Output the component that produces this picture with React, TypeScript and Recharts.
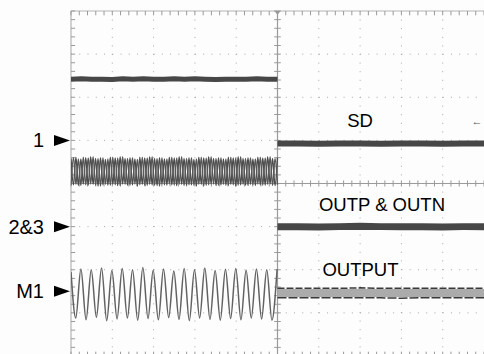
import React from "react";
import { LineChart, Line, XAxis, YAxis, ReferenceLine, ReferenceDot } from "recharts";

// Scope screen: 10 horizontal divisions x 8 vertical divisions
const xMajor = [1, 2, 3, 4, 6, 7, 8, 9];
const yMajor = [-3, -2, -1, 1, 2, 3];
const xMinor = Array.from({ length: 51 }, (_, i) => i / 5);
const yMinor = Array.from({ length: 41 }, (_, i) => i / 5 - 4);

// Channel reference markers on the left edge
const markerLabels = ["1", "2&3", "M1"];
const markerLevels = [1, -1, -2.5];

// Trace annotations
const noteTexts = ["SD", "OUTP & OUTN", "OUTPUT"];
const noteX = [7, 7.53, 7.01];
const noteY = [1.45, -0.48, -1.99];

// Before shutdown (0..5 div)
const topTrace = [
  2.42, 2.43, 2.42, 2.42, 2.41, 2.43, 2.42, 2.43, 2.42, 2.42, 2.43,
  2.42, 2.43, 2.42, 2.41, 2.42, 2.42, 2.42, 2.43, 2.42, 2.42,
];
const burstStep = 5 / 84;
const burstA = [
  0.58, -0.03, 0.61, -0.05, 0.57, -0.01, 0.6, -0.04, 0.62, -0.02, 0.58, -0.06,
  0.6, -0.03, 0.56, -0.04, 0.61, -0.02, 0.59, -0.05, 0.62, -0.01, 0.58, -0.04,
  0.6, -0.03, 0.57, -0.06, 0.61, -0.02, 0.59, -0.04, 0.62, -0.03, 0.58, -0.05,
  0.6, -0.01, 0.57, -0.04, 0.61, -0.03, 0.59, -0.05, 0.62, -0.02, 0.58, -0.04,
  0.6, -0.03, 0.56, -0.06, 0.61, -0.02, 0.59, -0.04, 0.62, -0.01, 0.58, -0.05,
  0.6, -0.03, 0.57, -0.04, 0.61, -0.02, 0.59, -0.06, 0.62, -0.03, 0.58, -0.04,
  0.6, -0.02, 0.57, -0.05, 0.61, -0.03, 0.59, -0.04, 0.62, -0.01, 0.58, -0.05,
  0.6,
];
const burstB = [
  -0.04, 0.6, -0.02, 0.57, -0.05, 0.61, -0.03, 0.59, -0.01, 0.62, -0.04, 0.58,
  -0.06, 0.6, -0.02, 0.57, -0.04, 0.61, -0.03, 0.59, -0.05, 0.62, -0.02, 0.58,
  -0.04, 0.6, -0.01, 0.56, -0.03, 0.61, -0.05, 0.59, -0.02, 0.62, -0.04, 0.58,
  -0.06, 0.6, -0.03, 0.57, -0.01, 0.61, -0.04, 0.59, -0.02, 0.62, -0.05, 0.58,
  -0.03, 0.6, -0.04, 0.57, -0.02, 0.61, -0.06, 0.59, -0.03, 0.62, -0.01, 0.58,
  -0.04, 0.6, -0.02, 0.57, -0.05, 0.61, -0.03, 0.59, -0.04, 0.62, -0.02, 0.58,
  -0.05, 0.6, -0.03, 0.57, -0.01, 0.61, -0.04, 0.59, -0.02, 0.62, -0.05, 0.58,
  -0.03,
];
const m1Step = 0.125;
const m1Wave = [
  -2.05, -3.12, -1.98, -3.16, -2.0, -3.1, -1.96, -3.18, -2.02, -3.14,
  -1.97, -3.12, -2.0, -3.17, -1.95, -3.13, -2.01, -3.16, -1.98, -3.11,
  -2.03, -3.15, -1.97, -3.18, -2.0, -3.12, -1.96, -3.15, -2.02, -3.17,
  -1.99, -3.13, -1.97, -3.16, -2.01, -3.12, -1.98, -3.14, -2.0, -3.17,
  -1.99,
];

// After shutdown (5..10 div)
const sdTrace = [0.93, 0.93, 0.92, 0.93, 0.93, 0.92, 0.93, 0.93, 0.92, 0.93, 0.93];
const outTrace = [-1.0, -1.0, -1.01, -1.0, -0.99, -1.0, -1.0, -1.0, -1.01, -1.0, -1.0];
const outputTop = [-2.43, -2.43, -2.43, -2.43, -2.42, -2.43, -2.43, -2.43, -2.43, -2.43, -2.43];
const outputMid = [-2.54, -2.54, -2.54, -2.54, -2.54, -2.54, -2.54, -2.54, -2.54, -2.54, -2.54];
const outputLow = [-2.65, -2.65, -2.65, -2.65, -2.65, -2.65, -2.66, -2.65, -2.65, -2.65, -2.65];

const toPoints = (vals: number[], start: number, step: number) =>
  vals.map((v, i) => ({ x: Math.min(10, start + i * step), y: v }));

const topData = toPoints(topTrace, 0, 0.25);
const burstAData = toPoints(burstA, 0, burstStep);
const burstBData = toPoints(burstB, 0, burstStep);
const m1Data = m1Wave.map((v, i) => ({ x: Math.max(0, i * m1Step - 0.01), y: v }));
const sdData = toPoints(sdTrace, 5, 0.5);
const outData = toPoints(outTrace, 5, 0.5);
const outTopData = toPoints(outputTop, 5, 0.5);
const outMidData = toPoints(outputMid, 5, 0.5);
const outLowData = toPoints(outputLow, 5, 0.5);

const gridColor = "#a8a8a8";
const traceColor = "#474747";
const font = "'Liberation Sans', Arial, sans-serif";

const channelMarker = (label: string) => (props: any) => {
  const { cx, cy } = props;
  return (
    <g>
      <polygon
        points={`${cx - 17},${cy - 5.5} ${cx - 1},${cy} ${cx - 17},${cy + 5.5}`}
        fill="#000"
      />
      <text x={cx - 27} y={cy + 7} textAnchor="end" fontSize={20} fontFamily={font} fill="#000">
        {label}
      </text>
    </g>
  );
};

const noteShape = (label: string) => (props: any) => {
  const { cx, cy } = props;
  return (
    <text x={cx} y={cy + 6.5} textAnchor="middle" fontSize={18.5} fontFamily={font} fill="#000">
      {label}
    </text>
  );
};

const triggerShape = (props: any) => {
  const { cx, cy } = props;
  return <polygon points={`${cx - 3},${cy} ${cx + 3},${cy} ${cx},${cy + 4}`} fill="#999" />;
};

const arrowShape = (props: any) => {
  const { cx, cy } = props;
  return (
    <text x={cx} y={cy + 4} fontSize={11} fontFamily={font} fill="#555">
      ←
    </text>
  );
};

export default function App() {
  const line = { dot: false, isAnimationActive: false, activeDot: false } as const;
  return (
    <div
      style={{
        position: "absolute",
        left: 0,
        top: 0,
        width: 484,
        height: 354,
        overflow: "hidden",
        background: "#fdfdfd",
      }}
    >
      <LineChart width={484} height={356} margin={{ top: 11, right: 0, left: 71, bottom: 0 }}>
        <XAxis type="number" dataKey="x" domain={[0, 10]} hide allowDataOverflow />
        <YAxis type="number" dataKey="y" domain={[-4, 4]} hide allowDataOverflow />

        {/* dotted graticule */}
        {xMajor.map((v) => (
          <ReferenceLine key={`gx${v}`} x={v} stroke={gridColor} strokeDasharray="1 7.6" />
        ))}
        {yMajor.map((v) => (
          <ReferenceLine key={`gy${v}`} y={v} stroke={gridColor} strokeDasharray="1 7.26" />
        ))}

        {/* frame */}
        <ReferenceLine x={0} stroke="#b5b5b5" strokeWidth={1.2} />
        <ReferenceLine y={4} stroke="#b5b5b5" strokeWidth={1.2} />
        <ReferenceLine y={-4} stroke="#b5b5b5" strokeWidth={1.2} />
        <ReferenceLine x={5} stroke="#9a9a9a" strokeWidth={1.2} />
        <ReferenceLine y={0} stroke="#9a9a9a" strokeWidth={1.2} />

        {/* minor ticks */}
        {xMinor.map((v) => (
          <ReferenceLine key={`tt${v}`} segment={[{ x: v, y: 4 }, { x: v, y: 3.9 }]} stroke="#9a9a9a" />
        ))}
        {xMinor.map((v) => (
          <ReferenceLine key={`tb${v}`} segment={[{ x: v, y: -4 }, { x: v, y: -3.9 }]} stroke="#9a9a9a" />
        ))}
        {xMinor.map((v) => (
          <ReferenceLine key={`tc${v}`} segment={[{ x: v, y: -0.07 }, { x: v, y: 0.07 }]} stroke="#9a9a9a" />
        ))}
        {yMinor.map((v) => (
          <ReferenceLine key={`tl${v}`} segment={[{ x: 0, y: v }, { x: 0.1, y: v }]} stroke="#9a9a9a" />
        ))}
        {yMinor.map((v) => (
          <ReferenceLine key={`tm${v}`} segment={[{ x: 4.92, y: v }, { x: 5.08, y: v }]} stroke="#9a9a9a" />
        ))}

        {/* traces */}
        <Line data={topData} dataKey="y" type="linear" stroke={traceColor} strokeWidth={5} {...line} />
        <Line data={burstAData} dataKey="y" type="monotone" stroke="#4c4c4c" strokeWidth={1.4} {...line} />
        <Line data={burstBData} dataKey="y" type="monotone" stroke="#575757" strokeWidth={1.4} {...line} />
        <Line data={m1Data} dataKey="y" type="monotone" stroke="#626262" strokeWidth={1.5} {...line} />
        <Line data={sdData} dataKey="y" type="linear" stroke={traceColor} strokeWidth={6} {...line} />
        <Line data={outData} dataKey="y" type="linear" stroke={traceColor} strokeWidth={7} {...line} />
        <Line data={outMidData} dataKey="y" type="linear" stroke="#ababab" strokeWidth={8} {...line} />
        <Line data={outTopData} dataKey="y" type="linear" stroke="#3a3a3a" strokeWidth={1.5} strokeDasharray="7 2" {...line} />
        <Line data={outLowData} dataKey="y" type="linear" stroke="#3a3a3a" strokeWidth={1.5} strokeDasharray="9 2" {...line} />

        {/* markers and notes */}
        {markerLabels.map((label, i) => (
          <ReferenceDot key={label} x={0} y={markerLevels[i]} ifOverflow="visible" shape={channelMarker(label)} />
        ))}
        {noteTexts.map((t, i) => (
          <ReferenceDot key={t} x={noteX[i]} y={noteY[i]} ifOverflow="visible" shape={noteShape(t)} />
        ))}
        <ReferenceDot x={5} y={4} ifOverflow="visible" shape={triggerShape} />
        <ReferenceDot x={9.7} y={1.46} ifOverflow="visible" shape={arrowShape} />
      </LineChart>
    </div>
  );
}
